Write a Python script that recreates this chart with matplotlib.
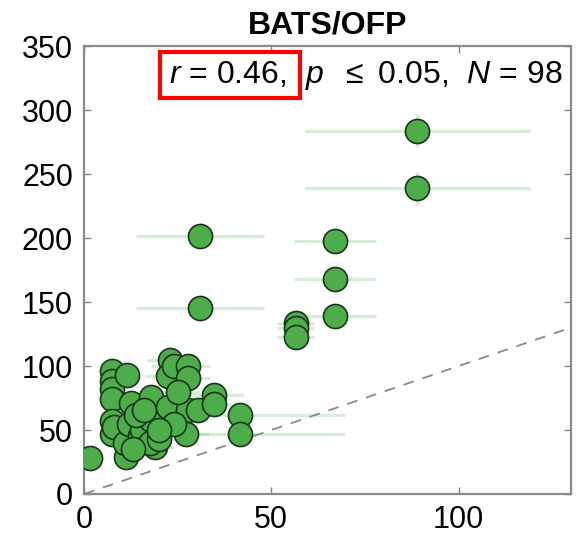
import numpy as np
import matplotlib
matplotlib.use('Agg')
import matplotlib.pyplot as plt
from matplotlib.patches import Rectangle

plt.rcParams['font.family'] = ['Liberation Sans', 'DejaVu Sans']
plt.rcParams['mathtext.fontset'] = 'custom'
plt.rcParams['mathtext.rm'] = 'Liberation Sans'
plt.rcParams['mathtext.it'] = 'Liberation Sans:italic'

# data
x_vals = [89, 89, 31, 31, 67, 67, 67, 56.5, 56.5, 56.5,
          1.5, 7.4, 7.4, 7.4, 7.4, 7.4, 7.6, 8, 11.5, 12.5,
          11.3, 11, 12, 15, 15.5, 18, 18, 18.9, 17.6, 20,
          14, 16, 22.9, 22.4, 24, 27.7, 27.7, 22.3, 27.7, 30.3,
          27.3, 24, 25, 34.8, 34.8, 41.7, 41.7, 20, 13]
y_vals = [284, 239, 202, 145, 198, 168, 139, 134, 130, 123,
          28, 96, 88, 82, 74, 57, 47, 52, 93, 71,
          29, 40, 55, 45, 50, 76, 58, 37, 40, 43,
          62, 66, 105, 92, 100, 100, 91, 68, 66, 66,
          47, 55, 80, 77, 70, 62, 47, 50, 35]
x_err = [30, 30, 17, 17, 11, 11, 11, 5, 5, 5,
         2, 3, 3, 3, 3, 3, 3, 3, 3, 4,
         3, 3, 3, 4, 4, 5, 5, 5, 5, 5,
         4, 4, 6, 6, 6, 6, 6, 6, 6, 6,
         6, 6, 6, 8, 8, 28, 28, 5, 3]
y_err = [13, 13, 10, 10, 8, 8, 8, 7, 6, 6,
         4, 5, 5, 5, 5, 5, 5, 5, 5, 5,
         5, 5, 5, 5, 5, 6, 6, 6, 6, 6,
         5, 5, 6, 6, 6, 6, 6, 6, 6, 6,
         6, 6, 6, 6, 6, 8, 8, 6, 5]

title = 'BATS/OFP'
stats_text = r'$r$ = 0.46,  $p$  $\leq$ 0.05,  $N$ = 98'

fig = plt.figure(figsize=(5.77, 5.49), dpi=100)
ax = fig.add_axes([0.1456, 0.1002, 0.8440, 0.8158])

# 1:1 line
ax.plot([0, 130], [0, 130], ls=(0, (6, 5)), color='#8a8a8a', lw=1.3, zorder=1)

ax.errorbar(x_vals, y_vals, xerr=x_err, yerr=y_err, fmt='none',
            ecolor='#4daf4a', alpha=0.22, elinewidth=2.4, capsize=0, zorder=2)
ax.scatter(x_vals, y_vals, s=300, color='#4cad4a', edgecolors='#1a361a',
           linewidths=1.2, zorder=3)

ax.set_xlim(0, 130)
ax.set_ylim(0, 350)
ax.set_xticks([0, 50, 100])
ax.set_yticks(np.arange(0, 351, 50))
ax.tick_params(direction='in', top=True, right=True, labelsize=22,
               length=5, width=1, color='#808080', pad=8)
for sp in ax.spines.values():
    sp.set_color('#8a8a8a')
    sp.set_linewidth(1.6)

ax.set_title(title, fontsize=23, fontweight='bold', pad=9)
ax.text(0.982, 0.935, stats_text, transform=ax.transAxes, ha='right',
        va='center', fontsize=23)

# red box around the r value
fig.patches.append(Rectangle((160 / 577, 1 - 98 / 549), 140 / 577, 46 / 549,
                             transform=fig.transFigure, fill=False,
                             edgecolor='red', lw=3, zorder=10))

fig.savefig('out.png', dpi=100)
